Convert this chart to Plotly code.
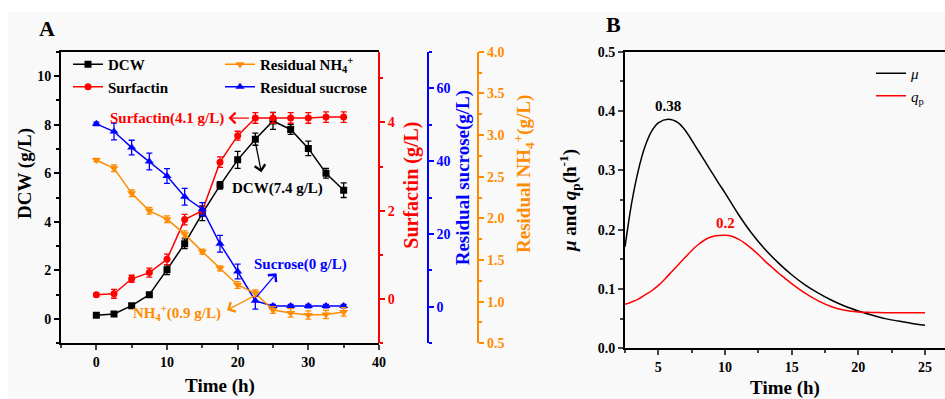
import plotly.graph_objects as go

W, H = 945, 399
def px(xp): return xp / W
def py(yp): return 1 - yp / H

# ---------------- Panel A data ----------------
time_a = [0, 2.5, 5, 7.5, 10, 12.5, 15, 17.5, 20, 22.5, 25, 27.5, 30, 32.5, 35]
dcw = [0.15, 0.21, 0.55, 1.0, 2.03, 3.1, 4.35, 5.5, 6.55, 7.4, 8.15, 7.8, 7.02, 6.0, 5.3]
dcw_err = [0.05, 0.05, 0.08, 0.05, 0.2, 0.2, 0.3, 0.15, 0.35, 0.25, 0.35, 0.2, 0.3, 0.2, 0.3]
surf = [0.1, 0.12, 0.46, 0.6, 0.9, 1.8, 2.0, 3.1, 3.7, 4.1, 4.1, 4.1, 4.1, 4.12, 4.12]
surf_err = [0.03, 0.1, 0.08, 0.1, 0.12, 0.12, 0.1, 0.12, 0.1, 0.12, 0.12, 0.12, 0.12, 0.12, 0.12]
sucrose = [50.2, 48.1, 43.7, 39.9, 35.9, 30.2, 26.8, 17.3, 9.7, 1.65, 0.2, 0.2, 0.2, 0.2, 0.2]
sucrose_err = [0.5, 2.3, 2.0, 2.3, 2.0, 2.3, 1.8, 2.3, 2.0, 2.3, 0.5, 0.5, 0.5, 0.5, 0.5]
nh4 = [2.70, 2.60, 2.30, 2.09, 1.99, 1.81, 1.60, 1.40, 1.20, 1.10, 0.90, 0.865, 0.84, 0.845, 0.877]
nh4_err = [0.02, 0.04, 0.04, 0.04, 0.04, 0.04, 0.03, 0.03, 0.04, 0.04, 0.04, 0.05, 0.05, 0.05, 0.05]

# ---------------- Panel B data ----------------
time_mu = [2.5, 3, 3.5, 4, 4.5, 5, 5.75, 6.5, 7, 7.5, 8, 8.5, 9, 9.5, 10, 11, 12, 13, 14, 15,
           16, 17, 18, 19, 20, 21, 22, 23, 24, 25]
mu = [0.171, 0.245, 0.30, 0.34, 0.366, 0.38, 0.386, 0.38, 0.368, 0.351, 0.333, 0.315, 0.297, 0.279,
      0.262, 0.226, 0.194, 0.167, 0.144, 0.124, 0.107, 0.093, 0.081, 0.071, 0.063, 0.056,
      0.05, 0.046, 0.042, 0.039]
time_qp = [2.5, 3, 3.5, 4, 4.5, 5, 5.5, 6, 6.5, 7, 7.5, 8, 8.5, 9, 9.5, 10, 10.5, 11, 11.5, 12,
           12.5, 13, 13.5, 14, 14.5, 15, 16, 17, 18, 19, 20, 21, 22, 23, 24, 25]
qp = [0.074, 0.078, 0.083, 0.09, 0.097, 0.106, 0.117, 0.129, 0.141, 0.153, 0.165, 0.175, 0.183,
      0.188, 0.190, 0.1905, 0.189, 0.184, 0.177, 0.168, 0.158, 0.147, 0.137, 0.127, 0.118, 0.109,
      0.093, 0.080, 0.070, 0.064, 0.061, 0.0605, 0.06, 0.06, 0.06, 0.06]

BLACK, RED, BLUE, ORANGE = "#000000", "#ff0000", "#0000ff", "#ff8c00"
SERIF = "Liberation Serif"

fig = go.Figure()

def series(x, y, err, name, color, symbol, size, yaxis, legend, group):
    fig.add_trace(go.Scatter(
        x=x, y=y, name=name, mode="lines+markers", yaxis=yaxis, xaxis="x",
        line=dict(color=color, width=1.5),
        marker=dict(color=color, symbol=symbol, size=size),
        error_y=dict(type="data", array=err, visible=True, color=color, thickness=1.3, width=3),
        legend=legend, legendgroup=group))

series(time_a, nh4, nh4_err, "Residual NH<sub>4</sub><sup>+</sup>", ORANGE, "triangle-down", 8, "y4", "legend2", "g3")
series(time_a, sucrose, sucrose_err, "Residual sucrose", BLUE, "triangle-up", 8, "y3", "legend2", "g4")
series(time_a, dcw, dcw_err, "DCW", BLACK, "square", 7, "y", "legend", "g1")
series(time_a, surf, surf_err, "Surfactin", RED, "circle", 7, "y2", "legend", "g2")

fig.add_trace(go.Scatter(x=time_mu, y=mu, name="<i>μ</i>", mode="lines",
                         line=dict(color=BLACK, width=1.5, shape="spline", smoothing=0.8),
                         xaxis="x2", yaxis="y5", legend="legend3"))
fig.add_trace(go.Scatter(x=time_qp, y=qp, name="<i>q</i><sub>p</sub>", mode="lines",
                         line=dict(color=RED, width=1.5, shape="spline", smoothing=0.8),
                         xaxis="x2", yaxis="y5", legend="legend3"))

tickfont = dict(family=SERIF, size=14, weight="bold")
titlefont = dict(family=SERIF, size=19, weight="bold")

def yax(color, rng, dtick, minor_dtick, **kw):
    d = dict(range=rng, dtick=dtick, showgrid=False, zeroline=False, showline=True, linecolor=color,
             linewidth=2, ticks="outside", ticklen=5, tickwidth=1.5, tickcolor=color,
             tickfont=dict(tickfont, color=color), automargin=False,
             minor=dict(dtick=minor_dtick, ticks="outside", ticklen=3, tickcolor=color, tickwidth=1.5))
    d.update(kw)
    return d

ax_dom_a = [px(61), px(379)]
y_dom_a = [py(343.3), py(51.7)]
ax_dom_b = [px(625), 1.0]
y_dom_b = [py(348.3), py(51.7)]

fig.update_layout(
    width=W, height=H, margin=dict(l=0, r=0, t=0, b=0),
    paper_bgcolor="#f9f9f9", plot_bgcolor="#f9f9f9",
    font=dict(family=SERIF, color=BLACK),
    xaxis=dict(domain=ax_dom_a, range=[-5, 40], dtick=10, tick0=0, showgrid=False, zeroline=False,
               showline=True, linecolor=BLACK, linewidth=2, mirror=True, ticks="outside", ticklen=5,
               tickwidth=1.5, tickfont=tickfont, automargin=False, anchor="y",
               minor=dict(dtick=5, ticks="outside", ticklen=3, tickwidth=1.5),
               title=dict(text="Time (h)", font=titlefont, standoff=10)),
    yaxis=yax(BLACK, [-1, 11], 2, 1, domain=y_dom_a, anchor="x"),
    yaxis2=yax(RED, [-1, 5.6], 2, 1, overlaying="y", side="right", anchor="free", position=px(379)),
    yaxis3=yax(BLUE, [-10, 70], 20, 10, overlaying="y", side="right", anchor="free", position=px(427.7)),
    yaxis4=yax(ORANGE, [0.5, 4.0], 0.5, 0.25, overlaying="y", side="right", anchor="free",
               position=px(478.3), tickformat=".1f"),
    xaxis2=dict(domain=ax_dom_b, range=[2.5, 26.5], dtick=5, tick0=0, showgrid=False, zeroline=False,
                showline=True, linecolor=BLACK, linewidth=2, mirror=True, ticks="outside", ticklen=5,
                tickwidth=1.5, tickfont=tickfont, automargin=False, anchor="y5",
                minor=dict(dtick=2.5, ticks="outside", ticklen=3, tickwidth=1.5),
                title=dict(text="Time (h)", font=titlefont, standoff=9)),
    yaxis5=dict(domain=y_dom_b, range=[0, 0.5], dtick=0.1, tickformat=".1f", showgrid=False,
                zeroline=False, showline=True, linecolor=BLACK, linewidth=2, ticks="outside", ticklen=5,
                tickwidth=1.5, tickfont=tickfont, automargin=False, anchor="x2",
                minor=dict(dtick=0.05, ticks="outside", ticklen=3, tickwidth=1.5),
                title=dict(text="<i>μ</i> and <i>q</i><sub>p</sub>(h<sup>-1</sup>)", font=titlefont, standoff=16)),
    legend=dict(x=px(68), y=py(48), xanchor="left", yanchor="top", bgcolor="rgba(0,0,0,0)",
                font=dict(family=SERIF, size=15, weight="bold"), tracegroupgap=5, traceorder="normal"),
    legend2=dict(x=px(220), y=py(48), xanchor="left", yanchor="top", bgcolor="rgba(0,0,0,0)",
                 font=dict(family=SERIF, size=15, weight="bold"), tracegroupgap=5, traceorder="normal"),
    legend3=dict(x=px(871), y=py(57), xanchor="left", yanchor="top", bgcolor="rgba(0,0,0,0)",
                 font=dict(family=SERIF, size=15)),
    showlegend=True,
)

ann = []
# panel labels
for t, x, y in [("A", 47, 28), ("B", 613, 25)]:
    ann.append(dict(text="<b>%s</b>" % t, x=px(x), y=py(y), xref="paper", yref="paper", showarrow=False,
                    xanchor="center", yanchor="middle", font=dict(family=SERIF, size=22)))
# rotated y-axis titles of panel A
for t, x, y, c, s in [("DCW (g/L)", 25, 174, BLACK, 19), ("Surfactin (g/L)", 411.7, 185, RED, 20),
                      ("Residual sucrose(g/L)", 463.3, 178, BLUE, 19),
                      ("Residual NH<sub>4</sub><sup>+</sup>(g/L)", 523, 174, ORANGE, 19)]:
    ann.append(dict(text=t, x=px(x), y=py(y), xref="paper", yref="paper", showarrow=False,
                    textangle=-90, xanchor="center", yanchor="middle",
                    font=dict(family=SERIF, size=s, color=c, weight="bold")))
# arrows (head at x,y ; tail at ax,ay) in panel A data coords (left axis)
def arrow(x, y, ax, ay, color):
    ann.append(dict(x=x, y=y, ax=ax, ay=ay, xref="x", yref="y", axref="x", ayref="y", text="",
                    showarrow=True, arrowhead=4, arrowsize=1.6, arrowwidth=1.3, arrowcolor=color))
arrow(18.7, 8.27, 21.8, 8.27, RED)
arrow(23.35, 6.04, 22.5, 7.28, BLACK)
arrow(25.5, 1.88, 22.5, 0.85, BLUE)
arrow(18.5, 0.36, 22.5, 0.98, ORANGE)
def label(text, x, y, color, xanchor="center"):
    ann.append(dict(text=text, x=x, y=y, xref="x", yref="y", showarrow=False, xanchor=xanchor,
                    yanchor="middle", font=dict(family=SERIF, size=15, color=color, weight="bold")))
label("Surfactin(4.1 g/L)", 18.4, 8.27, RED, "right")
label("DCW(7.4 g/L)", 25.6, 5.37, BLACK)
label("Sucrose(0 g/L)", 28.85, 2.25, BLUE)
label("NH<sub>4</sub><sup>+</sup>(0.9 g/L)", 11.4, 0.23, ORANGE)
# panel B peak labels
ann.append(dict(text="0.38", x=5.75, y=0.386, xref="x2", yref="y5", showarrow=False, yanchor="bottom",
                yshift=3, font=dict(family=SERIF, size=15, color=BLACK, weight="bold")))
ann.append(dict(text="0.2", x=10, y=0.19, xref="x2", yref="y5", showarrow=False, yanchor="bottom",
                yshift=3, font=dict(family=SERIF, size=15, color=RED, weight="bold")))
fig.update_layout(annotations=ann)

# white margins of the original image
fig.add_shape(type="rect", xref="paper", yref="paper", x0=0, x1=1, y0=py(12), y1=1,
              fillcolor="white", line=dict(width=0), layer="below")
fig.add_shape(type="rect", xref="paper", yref="paper", x0=0, x1=px(8), y0=0, y1=1,
              fillcolor="white", line=dict(width=0), layer="below")

fig.write_html("out.html")
